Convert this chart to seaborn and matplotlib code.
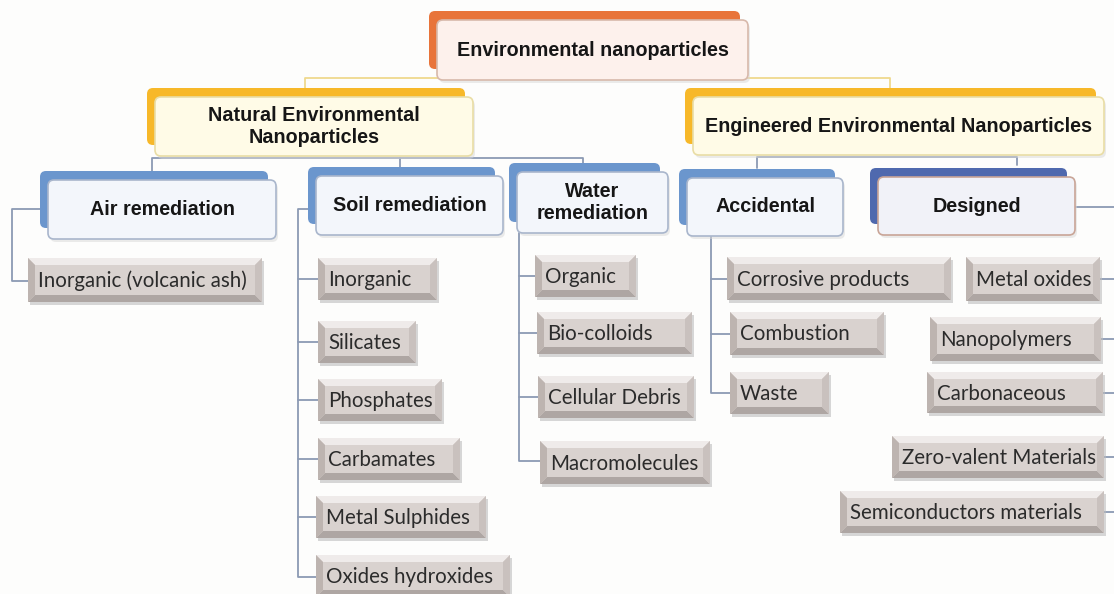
import numpy as np
import pandas as pd
import matplotlib
matplotlib.use("Agg")
import matplotlib.pyplot as plt
import seaborn as sns
from matplotlib.patches import FancyBboxPatch, Polygon, Rectangle

# ---- labels ----
root_label = "Environmental nanoparticles"
branch_labels = ["Natural Environmental\nNanoparticles", "Engineered Environmental Nanoparticles"]
group_labels = ["Air remediation", "Soil remediation", "Water\nremediation", "Accidental", "Designed"]
air_items = ["Inorganic (volcanic ash)"]
soil_items = ["Inorganic", "Silicates", "Phosphates", "Carbamates", "Metal Sulphides", "Oxides hydroxides"]
water_items = ["Organic", "Bio-colloids", "Cellular Debris", "Macromolecules"]
accidental_items = ["Corrosive products", "Combustion", "Waste"]
designed_items = ["Metal oxides", "Nanopolymers", "Carbonaceous", "Zero-valent Materials", "Semiconductors materials"]

# ---- layout (pixel space, y down): front box x0, y0, x1, y1 ----
root_box = (437, 20, 748, 80)
branch_boxes = [(155, 97, 473, 156), (693, 97, 1104, 155)]
group_boxes = [(48, 180, 276, 239), (316, 176, 503, 235), (517, 172, 668, 233),
               (687, 178, 843, 236), (878, 177, 1075, 235)]
group_back = ["#6b96cd", "#6b96cd", "#6b96cd", "#6b96cd", "#4f69ae"]
group_edge = ["#a9b6cc", "#a9b6cc", "#a9b6cc", "#a9b6cc", "#c9a597"]

air_boxes = [(28, 258, 262, 302)]
soil_boxes = [(318, 258, 437, 300), (318, 321, 416, 363), (318, 379, 442, 421),
              (318, 438, 460, 480), (316, 496, 486, 538), (316, 555, 510, 597)]
water_boxes = [(535, 255, 636, 297), (537, 312, 692, 354), (538, 376, 694, 418), (540, 441, 710, 484)]
acc_boxes = [(727, 257, 951, 300), (730, 312, 884, 355), (730, 372, 829, 414)]
des_boxes = [(966, 257, 1100, 301), (930, 317, 1101, 361), (927, 372, 1103, 413),
             (892, 436, 1104, 478), (840, 491, 1104, 533)]

sns.set_theme(style="white")
plt.rcParams['font.family'] = ['Liberation Sans', 'DejaVu Sans']

fig = plt.figure(figsize=(11.14, 5.94), dpi=100)
fig.patch.set_facecolor("#fdfdfc")
ax = fig.add_axes([0, 0, 1, 1])
ax.set_xlim(0, 1114)
ax.set_ylim(594, 0)
ax.axis("off")


def head_box(box, back, face, edge, text, fs=14.2):
    x0, y0, x1, y1 = box
    ax.add_patch(FancyBboxPatch((x0 - 8, y0 - 9), x1 - x0, y1 - y0 - 2,
                                boxstyle="round,pad=0,rounding_size=6",
                                fc=back, ec="none", zorder=2))
    ax.add_patch(FancyBboxPatch((x0 + 2, y0 + 3), x1 - x0, y1 - y0,
                                boxstyle="round,pad=0,rounding_size=6",
                                fc="#d8d8d8", ec="none", alpha=0.5, zorder=2))
    ax.add_patch(FancyBboxPatch((x0, y0), x1 - x0, y1 - y0,
                                boxstyle="round,pad=0,rounding_size=6",
                                fc=face, ec=edge, lw=1.2, zorder=3))
    ax.text((x0 + x1) / 2, (y0 + y1) / 2, text, ha="center", va="center",
            fontsize=fs, fontweight="bold", color="#161616", zorder=4,
            linespacing=1.2)


def leaf(box, text):
    x0, y0, x1, y1 = box
    b = 7
    ax.add_patch(Rectangle((x0 + 2, y0 + 3), x1 - x0, y1 - y0, fc="#bdbdbd",
                           ec="none", alpha=0.6, zorder=2))
    ax.add_patch(Rectangle((x0, y0), x1 - x0, y1 - y0, fc="#d9d2cf", ec="none", zorder=3))
    faces = [
        ([(x0, y0), (x1, y0), (x1 - b, y0 + b), (x0 + b, y0 + b)], "#efebea"),
        ([(x0, y1), (x1, y1), (x1 - b, y1 - b), (x0 + b, y1 - b)], "#aea6a3"),
        ([(x0, y0), (x0 + b, y0 + b), (x0 + b, y1 - b), (x0, y1)], "#bdb4b0"),
        ([(x1, y0), (x1 - b, y0 + b), (x1 - b, y1 - b), (x1, y1)], "#c9c1be"),
    ]
    for pts, c in faces:
        ax.add_patch(Polygon(pts, closed=True, fc=c, ec="none", zorder=3))
    ax.text(x0 + 10, (y0 + y1) / 2 + 1, text, ha="left", va="center",
            fontsize=14.8, family=["Lato", "DejaVu Sans"], color="#2b2b2b", zorder=4)


# ---- connectors ----
segs = []


def seg(pts, name, color):
    for x, y in pts:
        segs.append({"x": x, "y": y, "seg": name, "color": color})


blue_line = "#8c9ab3"
seg([(305, 88), (305, 78), (890, 78), (890, 88)], "top", "#efd98e")
seg([(152, 172), (152, 158), (583, 158), (583, 165)], "nat", blue_line)
seg([(400, 158), (400, 168)], "nat2", blue_line)
seg([(757, 168), (757, 157), (1017, 157), (1017, 165)], "eng", blue_line)
seg([(40, 209), (12, 209), (12, 281), (28, 281)], "air", blue_line)
seg([(308, 209), (298, 209), (298, 577), (316, 577)], "soil", blue_line)
for i, (x0, y0, x1, y1) in enumerate(soil_boxes[:-1]):
    seg([(298, (y0 + y1) / 2), (x0, (y0 + y1) / 2)], f"soil{i}", blue_line)
seg([(519, 233), (519, 461), (540, 461)], "water", blue_line)
for i, (x0, y0, x1, y1) in enumerate(water_boxes[:-1]):
    seg([(519, (y0 + y1) / 2), (x0, (y0 + y1) / 2)], f"water{i}", blue_line)
seg([(711, 236), (711, 393), (730, 393)], "acc", blue_line)
for i, (x0, y0, x1, y1) in enumerate(acc_boxes[:-1]):
    seg([(711, (y0 + y1) / 2), (x0, (y0 + y1) / 2)], f"acc{i}", blue_line)
seg([(1075, 207), (1114, 207)], "des", blue_line)
for i, (x0, y0, x1, y1) in enumerate(des_boxes):
    seg([(x1, (y0 + y1) / 2), (1114, (y0 + y1) / 2)], f"des{i}", blue_line)

lines = pd.DataFrame(segs)
for c, d in lines.groupby("color"):
    sns.lineplot(data=d, x="x", y="y", units="seg", estimator=None, sort=False,
                 color=c, lw=1.3, ax=ax, zorder=1)
ax.set_xlim(0, 1114)
ax.set_ylim(594, 0)
ax.axis("off")

# ---- boxes ----
head_box(root_box, "#e8743a", "#fdf1ec", "#d7b9ab", root_label)
for box, lab in zip(branch_boxes, branch_labels):
    head_box(box, "#f7b829", "#fffbe7", "#e9dda5", lab)
for box, lab, bc, ec in zip(group_boxes, group_labels, group_back, group_edge):
    face = "#f1f2f8" if bc == "#4f69ae" else "#f3f6fb"
    head_box(box, bc, face, ec, lab)

for boxes, items in [(air_boxes, air_items), (soil_boxes, soil_items),
                     (water_boxes, water_items), (acc_boxes, accidental_items),
                     (des_boxes, designed_items)]:
    for box, lab in zip(boxes, items):
        leaf(box, lab)

fig.savefig("out.png", dpi=100, facecolor=fig.get_facecolor())
